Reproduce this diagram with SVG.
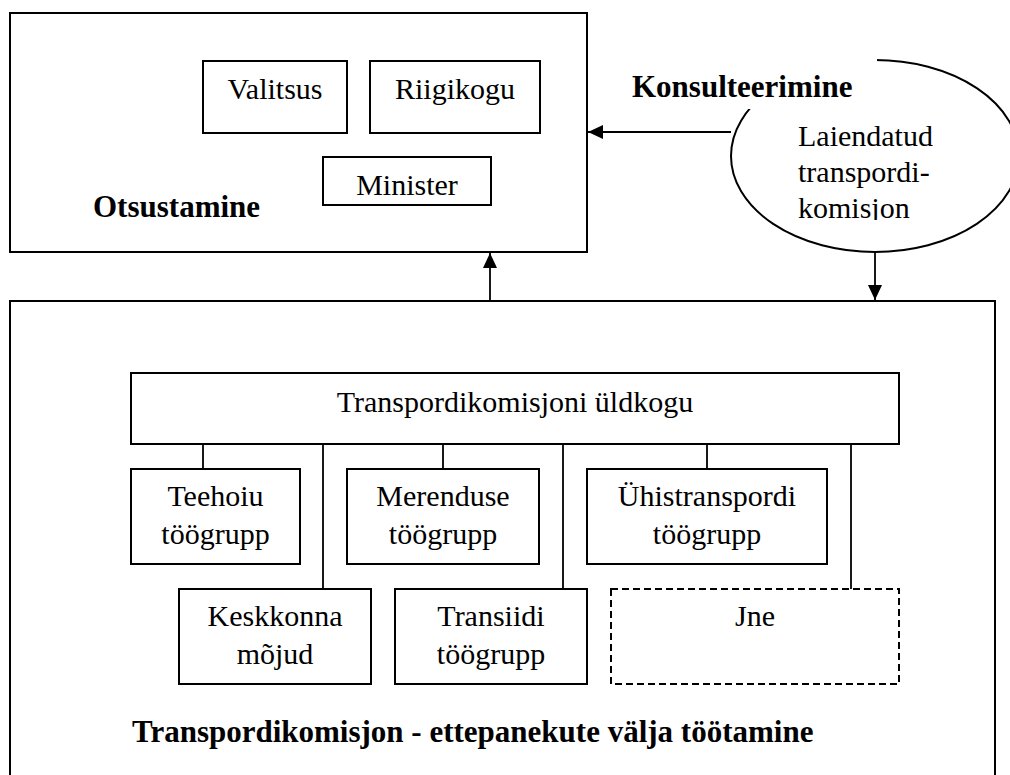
<svg xmlns="http://www.w3.org/2000/svg" width="1010" height="775" viewBox="0 0 1010 775">
<style>
.box{fill:#fff;stroke:#000;stroke-width:2}
.dash{fill:#fff;stroke:#000;stroke-width:2;stroke-dasharray:7 4}
.t{font-family:"Liberation Serif","Times New Roman",serif;font-size:30px;fill:#000}
.c{text-anchor:middle}
.b{font-weight:bold;font-size:31px}
.ln{stroke:#000;stroke-width:1.8;fill:none}
</style>
<defs>
<marker id="ah" markerWidth="15" markerHeight="14" refX="15" refY="7" orient="auto" markerUnits="userSpaceOnUse"><path d="M0,0 L15,7 L0,14 Z" fill="#000"/></marker>
<clipPath id="ec"><rect x="780" y="100" width="220" height="120"/></clipPath>
</defs>
<rect width="1010" height="775" fill="#fff"/>

<g id="otsustamine">
<rect class="box" x="10" y="13" width="577" height="239"/>
<text class="t b" x="93" y="217">Otsustamine</text>
</g>
<g id="valitsus">
<rect class="box" x="203" y="61" width="144" height="72"/>
<text class="t c" x="275" y="99">Valitsus</text>
</g>
<g id="riigikogu">
<rect class="box" x="370" y="61" width="170" height="72"/>
<text class="t c" x="455" y="99">Riigikogu</text>
</g>
<g id="minister">
<rect class="box" x="323" y="157" width="168" height="48"/>
<text class="t c" x="407" y="195">Minister</text>
</g>

<g id="laiendatud">
<ellipse cx="875" cy="156" rx="144" ry="96" fill="#fff" stroke="#000" stroke-width="2"/>
<g clip-path="url(#ec)">
<text class="t" x="798" y="146">Laiendatud</text>
<text class="t" x="798" y="182">transpordi-</text>
<text class="t" x="798" y="218">komisjon</text>
</g>
</g>
<g id="konsulteerimine">
<rect x="620" y="50" width="257" height="59" fill="#fff"/>
<text class="t b" x="632" y="97">Konsulteerimine</text>
</g>

<g id="transpordikomisjon">
<rect class="box" x="10" y="301" width="985" height="490"/>
<text class="t b" x="132" y="742">Transpordikomisjon - ettepanekute välja töötamine</text>
</g>
<g id="uldkogu">
<rect class="box" x="131" y="373" width="768" height="71"/>
<text class="t c" x="515" y="412">Transpordikomisjoni üldkogu</text>
</g>
<g id="teehoiu">
<rect class="box" x="131" y="469" width="169" height="95"/>
<text class="t c" x="215.5" y="506">Teehoiu</text>
<text class="t c" x="215.5" y="544">töögrupp</text>
</g>
<g id="merenduse">
<rect class="box" x="347" y="469" width="192" height="95"/>
<text class="t c" x="443" y="506">Merenduse</text>
<text class="t c" x="443" y="544">töögrupp</text>
</g>
<g id="yhistranspordi">
<rect class="box" x="587" y="469" width="240" height="95"/>
<text class="t c" x="707" y="506">Ühistranspordi</text>
<text class="t c" x="707" y="544">töögrupp</text>
</g>
<g id="keskkonna">
<rect class="box" x="179" y="589" width="192" height="95"/>
<text class="t c" x="275" y="626">Keskkonna</text>
<text class="t c" x="275" y="664">mõjud</text>
</g>
<g id="transiidi">
<rect class="box" x="395" y="589" width="192" height="95"/>
<text class="t c" x="491" y="626">Transiidi</text>
<text class="t c" x="491" y="664">töögrupp</text>
</g>
<g id="jne">
<rect class="dash" x="611" y="589" width="288" height="95"/>
<text class="t c" x="755" y="626">Jne</text>
</g>

<g id="connectors">
<line class="ln" x1="731" y1="132" x2="588" y2="132" marker-end="url(#ah)"/>
<line class="ln" x1="490" y1="301" x2="490" y2="253" marker-end="url(#ah)"/>
<line class="ln" x1="875" y1="252" x2="875" y2="300" marker-end="url(#ah)"/>
<line class="ln" x1="203" y1="444" x2="203" y2="469"/>
<line class="ln" x1="443" y1="444" x2="443" y2="469"/>
<line class="ln" x1="707" y1="444" x2="707" y2="469"/>
<line class="ln" x1="323" y1="444" x2="323" y2="589"/>
<line class="ln" x1="563" y1="444" x2="563" y2="589"/>
<line class="ln" x1="851" y1="444" x2="851" y2="589"/>
</g>
</svg>
